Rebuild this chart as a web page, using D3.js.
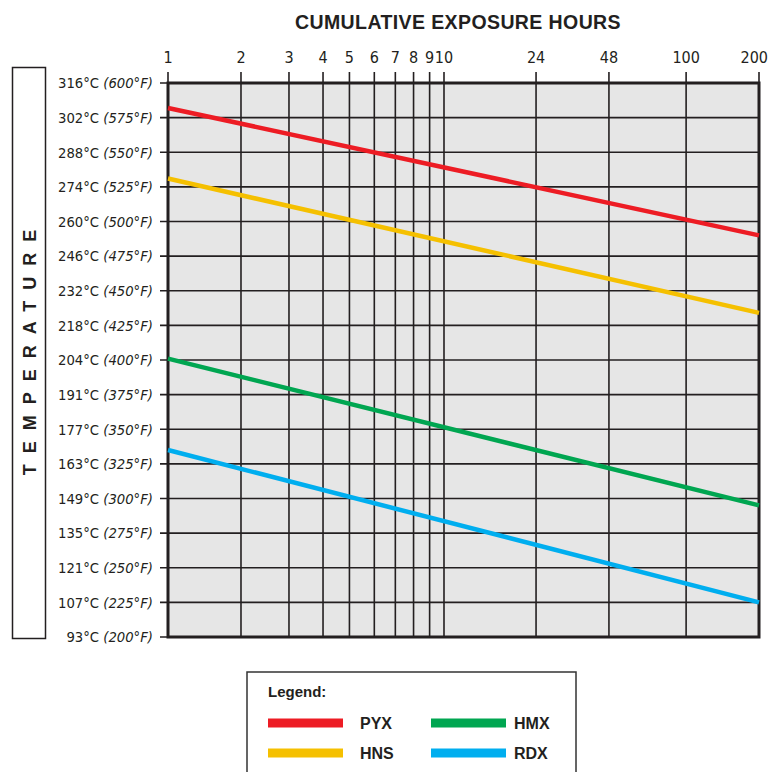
<!DOCTYPE html>
<html>
<head>
<meta charset="utf-8">
<script src="https://cdn.jsdelivr.net/npm/d3@7"></script>
<style>
  body { margin: 0; background: #fff; }
  svg { display: block; }
  .narrow { font-family: "Liberation Sans Narrow", "DejaVu Sans Condensed", "Liberation Sans", sans-serif; }
  .bold { font-family: "Liberation Sans", Arial, sans-serif; font-weight: bold; }
</style>
</head>
<body>
<div id="app"></div>
<script>
// Hours on the top axis (log-like spacing)
var hours = [1, 2, 3, 4, 5, 6, 7, 8, 9, 10, 24, 48, 100, 200];

// Temperature ticks, fahrenheit drives the scale, celsius is the label
var tempF = [600, 575, 550, 525, 500, 475, 450, 425, 400, 375, 350, 325, 300, 275, 250, 225, 200];
var tempC = [316, 302, 288, 274, 260, 246, 232, 218, 204, 191, 177, 163, 149, 135, 121, 107, 93];

// Series, [hours, °F]
var pyx = [[1, 582], [200, 490]];
var hns = [[1, 531], [200, 434]];
var hmx = [[1, 401], [200, 295]];
var rdx = [[1, 335], [200, 225]];

var seriesNames = ["PYX", "HNS", "HMX", "RDX"];
var seriesColors = ["#ed1c24", "#f5c000", "#00a651", "#00aeef"];
var seriesData = [pyx, hns, hmx, rdx];

var W = 769, H = 772;
var margin = { top: 83, left: 168 };
var width = 591, height = 554;

var svg = d3.select("#app").append("svg")
  .attr("width", W)
  .attr("height", H);

// the printed grid is not a true log scale, so break it up a little
var x = d3.scaleLog()
  .domain([1, 2, 5, 10, 200])
  .range([0, 0.1235, 0.307, 0.467, 1].map(f => f * width));

var y = d3.scaleLinear()
  .domain([200, 600])
  .range([height, 0]);

var g = svg.append("g")
  .attr("transform", "translate(" + margin.left + "," + margin.top + ")");

// plot background
g.append("rect")
  .attr("width", width)
  .attr("height", height)
  .attr("fill", "#e6e6e6");

// vertical grid + top ticks
g.selectAll(".vgrid")
  .data(hours)
  .enter().append("line")
  .attr("class", "vgrid")
  .attr("x1", d => x(d)).attr("x2", d => x(d))
  .attr("y1", -11).attr("y2", height)
  .attr("stroke", "#231f20")
  .attr("stroke-width", 1.6);

// horizontal grid + left ticks
g.selectAll(".hgrid")
  .data(tempF)
  .enter().append("line")
  .attr("class", "hgrid")
  .attr("x1", -8).attr("x2", width)
  .attr("y1", d => y(d)).attr("y2", d => y(d))
  .attr("stroke", "#231f20")
  .attr("stroke-width", 1.6);

// frame
g.append("rect")
  .attr("width", width)
  .attr("height", height)
  .attr("fill", "none")
  .attr("stroke", "#231f20")
  .attr("stroke-width", 3);

// top axis labels (last one pulled in so it stays on the page)
var last = hours[hours.length - 1];
g.selectAll(".xlab")
  .data(hours)
  .enter().append("text")
  .attr("class", "narrow")
  .attr("x", d => d === last ? W - margin.left - 1 : x(d))
  .attr("y", -20)
  .attr("text-anchor", d => d === last ? "end" : "middle")
  .attr("font-size", 16)
  .attr("fill", "#231f20")
  .text(d => d);

// left axis labels, celsius upright, fahrenheit italic
var ylab = g.selectAll(".ylab")
  .data(tempF)
  .enter().append("text")
  .attr("class", "narrow")
  .attr("x", -15)
  .attr("y", d => y(d))
  .attr("dy", "0.36em")
  .attr("text-anchor", "end")
  .attr("font-size", 14.7)
  .attr("fill", "#231f20");

ylab.append("tspan").text((d, i) => tempC[i] + "°C ");
ylab.append("tspan").attr("font-style", "italic").text(d => "(" + d + "°F)");

// series lines
var line = d3.line()
  .x(d => x(d[0]))
  .y(d => y(d[1]));

g.selectAll(".series")
  .data(seriesData)
  .enter().append("path")
  .attr("class", "series")
  .attr("d", line)
  .attr("fill", "none")
  .attr("stroke", (d, i) => seriesColors[i])
  .attr("stroke-width", 4.5);

// title
svg.append("text")
  .attr("class", "bold")
  .attr("x", 458)
  .attr("y", 29)
  .attr("text-anchor", "middle")
  .attr("font-size", 19.5)
  .attr("letter-spacing", 0.4)
  .attr("fill", "#231f20")
  .text("CUMULATIVE EXPOSURE HOURS");

// y title box
svg.append("rect")
  .attr("x", 12.5).attr("y", 67.5)
  .attr("width", 33).attr("height", 571)
  .attr("fill", "none")
  .attr("stroke", "#231f20")
  .attr("stroke-width", 1.5);

svg.append("text")
  .attr("class", "bold")
  .attr("transform", "translate(36,352) rotate(-90)")
  .attr("text-anchor", "middle")
  .attr("font-size", 18)
  .attr("letter-spacing", 11)
  .attr("dx", 5)
  .attr("fill", "#231f20")
  .text("TEMPERATURE");

// legend
var lg = svg.append("g").attr("transform", "translate(247,672)");

lg.append("rect")
  .attr("width", 329).attr("height", 130)
  .attr("fill", "#fff")
  .attr("stroke", "#333")
  .attr("stroke-width", 1.5);

lg.append("text")
  .attr("class", "bold")
  .attr("x", 21).attr("y", 25)
  .attr("font-size", 15)
  .attr("fill", "#231f20")
  .text("Legend:");

var item = lg.selectAll(".item")
  .data(seriesNames)
  .enter().append("g")
  .attr("class", "item")
  .attr("transform", (d, i) => "translate(" + (i < 2 ? 21 : 184) + "," + (i % 2 === 0 ? 51 : 81) + ")");

item.append("rect")
  .attr("y", -4.5)
  .attr("width", 75).attr("height", 9)
  .attr("fill", (d, i) => seriesColors[i]);

item.append("text")
  .attr("class", "bold")
  .attr("x", (d, i) => i < 2 ? 92 : 83)
  .attr("dy", "0.36em")
  .attr("font-size", 16)
  .attr("fill", "#231f20")
  .text(d => d);
</script>
</body>
</html>
